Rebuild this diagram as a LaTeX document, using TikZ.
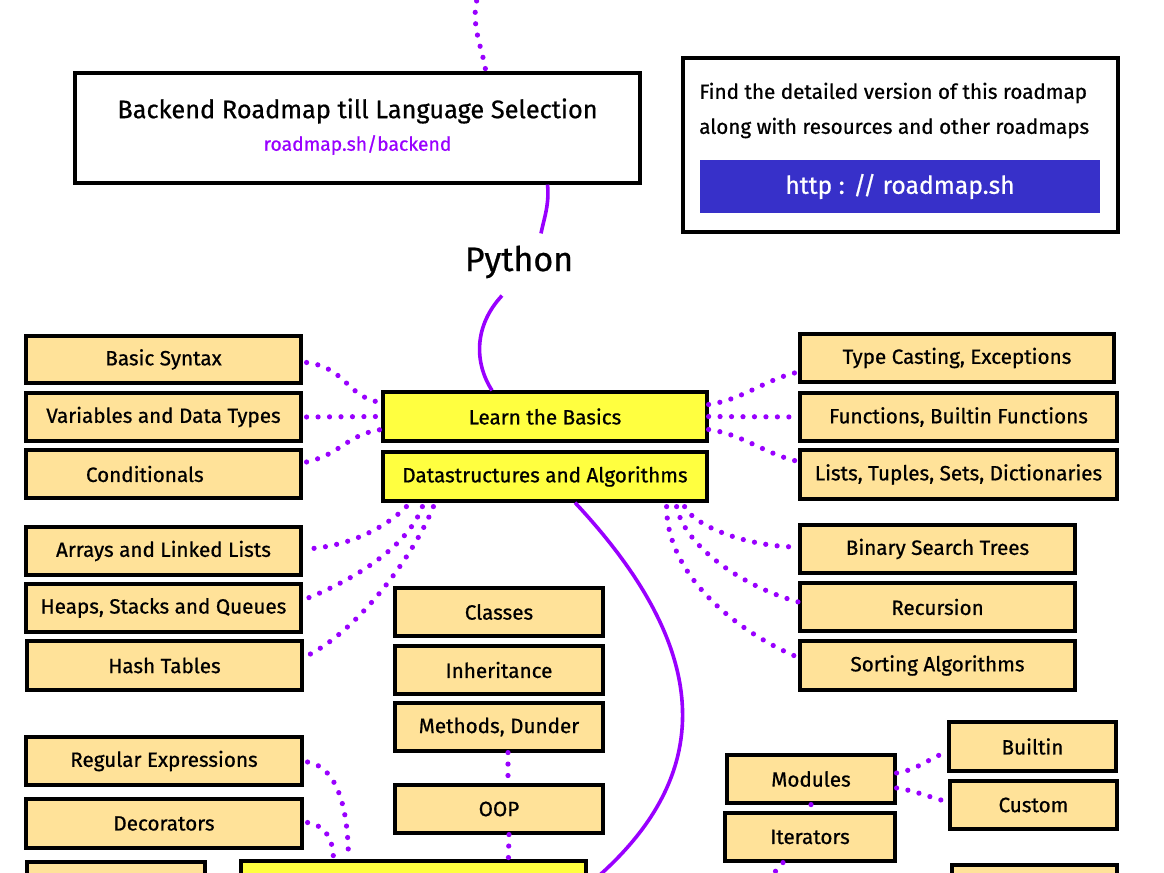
\documentclass[tikz,border=0pt]{standalone}
\usepackage{fontspec}
\setmainfont{Fira Sans}[FakeBold=0.7]
\usetikzlibrary{calc}

\begin{document}
\begin{tikzpicture}[x=0.75pt,y=0.75pt,yscale=-1,
  purpledots/.style={draw={rgb, 255:red, 153; green, 0; blue, 255 }, line width=3.9pt, line cap=round, dash pattern=on 0pt off 8.6pt},
  purpleline/.style={draw={rgb, 255:red, 153; green, 0; blue, 255 }, line width=2.7pt},
  plaintext/.style={inner sep=0pt},
  box/.style={draw=black, line width=2.4pt, inner sep=0pt, minimum height=48*0.75pt, font=\fontsize{15.5}{18}\selectfont},
  topic/.style={box, fill={rgb, 255:red, 255; green, 226; blue, 153 }},
  mainstep/.style={box, fill={rgb, 255:red, 255; green, 255; blue, 64 }},
  wd/.style={minimum width=#1*0.75pt},
  ht/.style={minimum height=#1*0.75pt}]
\useasboundingbox (0,0) rectangle (1164,873);
\clip (0,0) rectangle (1164,873);
\fill[white] (0,0) rectangle (1164,873);

%Shape: Rectangle [title]
\node[box, wd=565, ht=110] (title) at (357.5,128) {};
% Text Node
\node[plaintext, font=\fontsize{19}{22}\selectfont] (titletext) at (357.5,111) {Backend Roadmap till Language Selection};
% Text Node
\node[plaintext, font=\fontsize{14.5}{17}\selectfont, text={rgb, 255:red, 153; green, 0; blue, 255 }] (titlelink) at (357.5,145) {roadmap.sh/backend};

%Shape: Rectangle [info]
\node[box, wd=435, ht=174] (info) at (900.5,145) {};
% Text Node
\node[plaintext, anchor=west, font=\fontsize{15.5}{18}\selectfont] (infotop) at (699,93) {Find the detailed version of this roadmap};
% Text Node
\node[plaintext, anchor=west, font=\fontsize{15.5}{18}\selectfont] (infobottom) at (699,128) {along with resources and other roadmaps};
%Shape: Rectangle [link]
\node[fill={rgb, 255:red, 55; green, 48; blue, 201 }, inner sep=0pt, wd=400, ht=53, text=white, font=\fontsize{18.5}{21}\selectfont] (link) at (900,186.5) {http : // roadmap.sh};

% Text Node
\node[plaintext, font=\fontsize{25.5}{30}\selectfont] (python) at (519,262) {Python};

%Shape: Rectangle [main steps]
\node[mainstep, wd=324, ht=49] (basics) at (545,416.5) {Learn the Basics};
\node[mainstep, wd=324, ht=49] (ds) at (545,476.5) {Datastructures and Algorithms};
\node[mainstep, wd=345, ht=49] (core) at (413.5,885.5) {};

%Shape: Rectangle [left topics]
\node[topic, wd=275, ht=47] (syntax) at (163.5,359.5) {Basic Syntax};
\node[topic, wd=275] (vars) at (163.5,417) {Variables and Data Types};
\node[topic, wd=275] (cond) at (163.5,474) {\hspace*{-28pt}Conditionals};
\node[topic, wd=275] (arrays) at (163.5,551) {Arrays and Linked Lists};
\node[topic, wd=275] (heaps) at (163.5,608) {Heaps, Stacks and Queues};
\node[topic, wd=275, ht=49] (hash) at (164.5,665.5) {Hash Tables};
\node[topic, wd=276] (regex) at (164,761) {Regular Expressions};
\node[topic, wd=276, ht=49] (decor) at (164,823.5) {Decorators};
\node[topic, wd=178] (leftnext) at (116,886) {};

%Shape: Rectangle [right topics]
\node[topic, wd=314] (typec) at (957,358) {Type Casting, Exceptions};
\node[topic, wd=317] (func) at (958.5,417) {Functions, Builtin Functions};
\node[topic, wd=317, ht=49] (lists) at (958.5,474.5) {Lists, Tuples, Sets, Dictionaries};
\node[topic, wd=275] (bst) at (937.5,549) {Binary Search Trees};
\node[topic, wd=275] (rec) at (937.5,607) {Recursion};
\node[topic, wd=275, ht=49] (sort) at (937.5,665.5) {Sorting Algorithms};

%Shape: Rectangle [middle topics]
\node[topic, wd=208] (classes) at (499,612) {Classes};
\node[topic, wd=208] (inherit) at (499,670) {Inheritance};
\node[topic, wd=208] (methods) at (499,727) {Methods, Dunder};
\node[topic, wd=208] (oop) at (499,809) {OOP};

%Shape: Rectangle [bottom right topics]
\node[topic, wd=168] (modules) at (811,779) {Modules};
\node[topic, wd=170] (iter) at (810,837) {Iterators};
\node[topic, wd=167, ht=49] (builtin) at (1032.5,746.5) {Builtin};
\node[topic, wd=167] (custom) at (1033.5,805) {Custom};
\node[topic, wd=165] (rightnext) at (1034.5,889) {};

\coordinate (topin) at (480,-10);
\coordinate (iterout) at (755,895);

%Curve Lines
\draw[purpledots] (topin) .. controls +(-12,30) and +(-4,-25) .. ($(title.north)+(128,-2)$);
\draw[purpleline] ($(title.south)+(190,0)$) .. controls +(2,20) and +(3,-15) .. ($(python.north)+(22,-12)$);
\draw[purpleline] ($(python.south)+(-17,17)$) .. controls +(-28,30) and +(-18,-28) .. ($(basics.north)+(-53,0)$);
\draw[purpleline] ($(ds.south)+(30,0)$) .. controls +(130,139) and +(139,-115) .. (core.east);

%Curve Lines [basics]
\draw[purpledots] ($(syntax.east)+(4,3)$) .. controls +(40,5) and +(-35,-5) .. ($(basics.west)+(0,-14)$);
\draw[purpledots] ($(vars.east)+(4,0)$) -- (basics.west);
\draw[purpledots] ($(cond.east)+(4,-12)$) .. controls +(35,-8) and +(-35,5) .. ($(basics.west)+(0,13)$);
\draw[purpledots] ($(basics.east)+(0,-12)$) .. controls +(35,-5) and +(-35,8) .. ($(typec.west)+(0,14)$);
\draw[purpledots] (basics.east) -- (func.west);
\draw[purpledots] ($(basics.east)+(0,13)$) .. controls +(35,5) and +(-35,-8) .. ($(lists.west)+(0,-13)$);

%Curve Lines [datastructures]
\draw[purpledots] ($(ds.south west)+(25,4)$) .. controls +(-20,20) and +(45,-3) .. ($(arrays.east)+(4,-2)$);
\draw[purpledots] ($(ds.south west)+(41,4)$) .. controls +(-15,40) and +(50,-20) .. ($(heaps.east)+(3,-9)$);
\draw[purpledots] ($(ds.south west)+(52,4)$) .. controls +(-20,50) and +(50,-25) .. ($(hash.east)+(4,-10)$);
\draw[purpledots] ($(ds.south east)+(-24,4)$) .. controls +(10,20) and +(-50,0) .. ($(bst.west)+(0,-2)$);
\draw[purpledots] ($(ds.south east)+(-32,4)$) .. controls +(8,40) and +(-55,-15) .. ($(rec.west)+(0,-5)$);
\draw[purpledots] ($(ds.south east)+(-42,4)$) .. controls +(0,70) and +(-60,-25) .. ($(sort.west)+(0,-8)$);

%Straight Lines [oop]
\draw[purpledots] ($(methods.south)+(9,0)$) -- ($(oop.north)+(9,0)$);
\draw[purpledots] ($(oop.south)+(10,0)$) -- ($(core.north west)+(269,0)$);

%Curve Lines [core]
\draw[purpledots] ($(regex.east)+(4,1)$) .. controls +(30,5) and +(0,-50) .. ($(core.north west)+(109,0)$);
\draw[purpledots] ($(decor.east)+(4,-1)$) .. controls +(18,3) and +(0,-20) .. ($(core.north west)+(94,0)$);

%Curve Lines [modules]
\draw[purpledots] ($(modules.east)+(0,-6)$) .. controls +(20,-3) and +(-20,8) .. ($(builtin.west)+(0,5)$);
\draw[purpledots] ($(modules.east)+(0,9)$) .. controls +(20,3) and +(-20,-5) .. ($(custom.west)+(0,-3)$);
\draw[purpledots] (modules.south) -- (iter.north);
\draw[purpledots] ($(iter.south)+(-27,0)$) -- (iterout);

\end{tikzpicture}
\end{document}
